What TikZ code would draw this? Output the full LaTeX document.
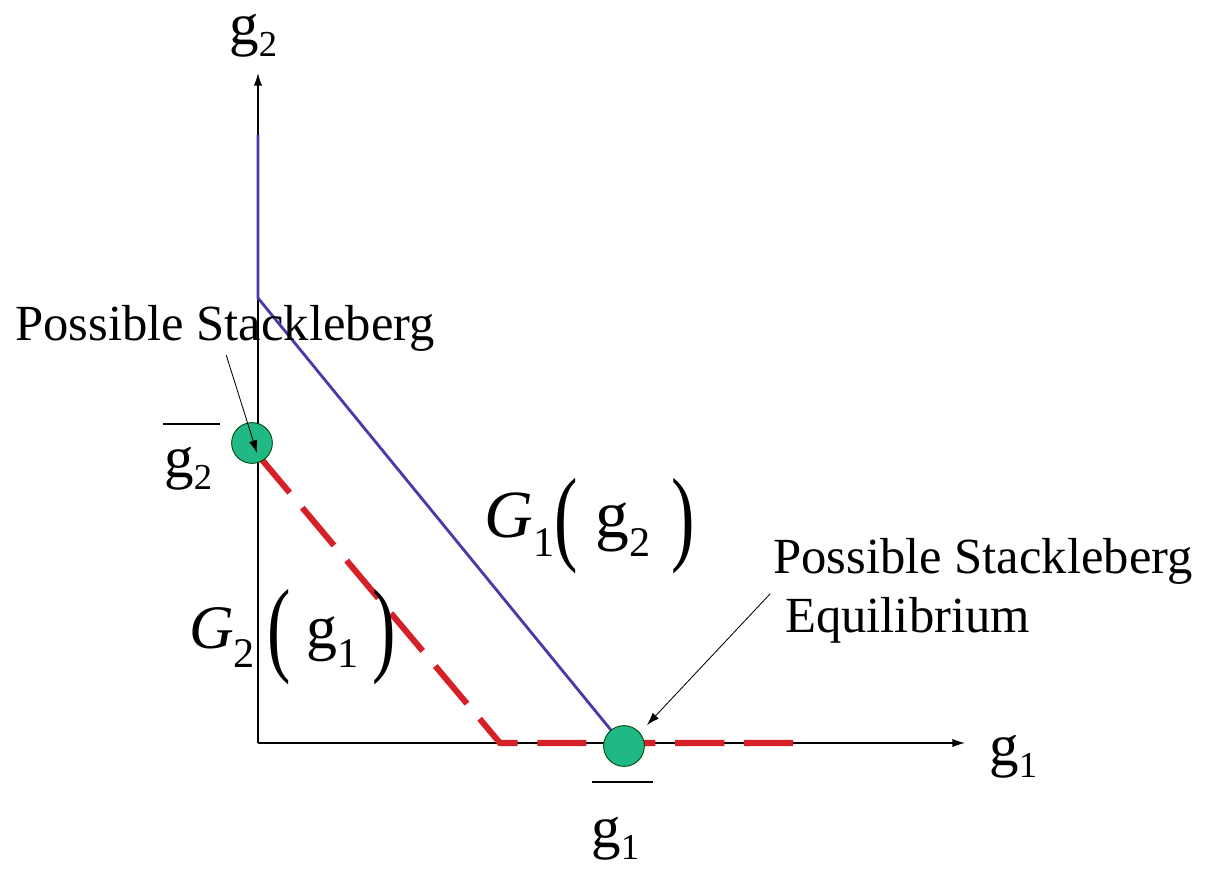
\documentclass[tikz,border=0pt]{standalone}
\usepackage{fontspec}
\setmainfont{Liberation Serif}
\usetikzlibrary{arrows.meta,positioning}

\definecolor{curveblue}{RGB}{72,58,168}
\definecolor{curvered}{RGB}{214,32,40}
\definecolor{eqgreen}{RGB}{32,184,132}

% variable with a lowered index, and pieces of the reaction functions
\newcommand{\gvar}[1]{g\raisebox{-9pt}{\fontsize{26}{26}\selectfont #1}}
\newcommand{\idx}[1]{\raisebox{-14pt}{\fontsize{30}{30}\selectfont #1}}
\newcommand{\fnopen}{\raisebox{-10pt}{\fontsize{50}{50}\selectfont\scalebox{1}[1.5]{(}}}
\newcommand{\fnclose}{\raisebox{-10pt}{\fontsize{50}{50}\selectfont\scalebox{1}[1.5]{)}}}

\begin{document}
\begin{tikzpicture}[
    x=0.025cm, y=-0.025cm,
    axis/.style={-{Latex[length=9pt,width=6pt]}, line width=1pt},
    pointer/.style={-{Latex[length=9pt,width=6pt]}, line width=0.6pt},
    reaction/.style={line width=2pt, curveblue},
    follower/.style={line width=4.3pt, curvered, dash pattern=on 35pt off 14pt},
    eqdot/.style={circle, fill=eqgreen, draw=green!25!black, line width=0.6pt, minimum size=29pt, inner sep=0pt},
    bar/.style={line width=2pt},
    word/.style={font=\fontsize{36}{42}\selectfont, inner sep=0pt},
    mathlbl/.style={font=\fontsize{42}{42}\selectfont, inner sep=0pt},
    funlbl/.style={font=\fontsize{48}{48}\selectfont, inner sep=0pt}
]
    \useasboundingbox (0,0) rectangle (1212,870);

    % axes
    \coordinate (O) at (258,743);
    \coordinate (ytop) at (258,73);
    \coordinate (xend) at (965,743);
    \draw[axis] (O) -- (ytop);
    \draw[axis] (O) -- (xend);
    \node[mathlbl, anchor=base west] (g2axis) at (229,44) {\gvar{2}};
    \node[mathlbl, anchor=base west] (g1axis) at (989,765) {\gvar{1}};

    % reaction curves
    \coordinate (bluetop) at (258,135);
    \coordinate (bluekink) at (258,298);
    \coordinate (redtop) at (258,455);
    \coordinate (redkink) at (500,743);
    \coordinate (redend) at (795,743);
    \draw[reaction] (bluetop) -- (bluekink) -- (624,746);
    \draw[follower] (redtop) -- (redkink) -- (redend);

    % equilibria
    \node[eqdot] (eqA) at (252,443) {};
    \node[eqdot] (eqB) at (624,746) {};

    % bounds
    \node[mathlbl, anchor=base west] (g2bar) at (164,477) {\gvar{2}};
    \draw[bar] (163,424) -- (220,424);
    \node[mathlbl, anchor=base west] (g1bar) at (591,847) {\gvar{1}};
    \draw[bar] (592,782) -- (653,782);

    \node[funlbl, anchor=base west] (Gone) at (484,537)
        {{\itshape G}\idx{1}\fnopen\kern12.8pt g\idx{2}\kern15pt\fnclose};
    \node[funlbl, anchor=base west, font=\fontsize{44}{44}\selectfont] (Gtwo) at (189,648)
        {{\itshape G}\idx{2}\kern9pt\fnopen\kern10.7pt g\idx{1}\kern10.5pt\fnclose};

    % annotations
    \node[word, anchor=base west] (stackA) at (15,340) {Possible Stackleberg};
    \node[word, anchor=north west, align=left] (stackB) at (773,538) {Possible Stackleberg\\\hspace{8.5pt}Equilibrium};
    \coordinate (tipA) at (257,453);
    \coordinate (tipB) at (647,725);
    \draw[pointer, shorten <=3pt] (stackA.south) -- (tipA);
    \draw[pointer, shorten <=3pt] (stackB.west) -- (tipB);
\end{tikzpicture}
\end{document}
